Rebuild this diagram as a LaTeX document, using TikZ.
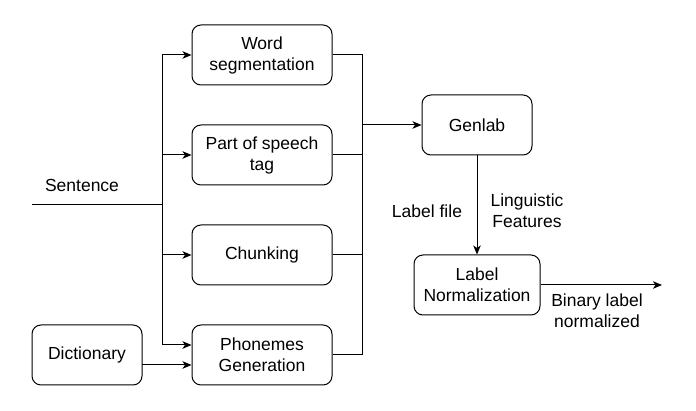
\documentclass[tikz,border=0pt]{standalone}
\usepackage{fontspec}
\setmainfont{Liberation Sans}
\usetikzlibrary{arrows.meta}
\begin{document}
\begin{tikzpicture}[x=1pt,y=-1pt,
  box/.style={draw, rounded corners=9pt, minimum width=140pt, minimum height=60pt,
    align=center, inner sep=0pt, line width=1pt, font=\fontsize{17.5}{21}\selectfont},
  txt/.style={align=center, inner sep=0pt, font=\fontsize{17.5}{21}\selectfont},
  wire/.style={line width=1pt},
  arr/.style={wire, -{Stealth[length=9pt,width=7.5pt,inset=2.5pt]}}]
\useasboundingbox (0,0) rectangle (696,411);

% processing stages
\node[box] (ws)  at (262,55)  {Word\\segmentation};
\node[box] (pos) at (262,155) {Part of speech\\tag};
\node[box] (ch)  at (262,255) {Chunking};
\node[box] (ph)  at (262,355) {Phonemes\\Generation};
\node[box, minimum width=110pt] (dic) at (87,355) {Dictionary};
\node[box, minimum width=110pt] (gen) at (477,125) {Genlab};
\node[box, minimum width=126pt] (ln)  at (477,285) {Label\\Normalization};

% text labels
\node[txt] (lsent) at (82,185)  {Sentence};
\node[txt] (lfile) at (427,211) {Label file};
\node[txt] (lfeat) at (527,211) {Linguistic\\Features};
\node[txt] (lbin)  at (597,311) {Binary label\\normalized};

% input bus
\coordinate (s0) at (32,205);
\coordinate (s1) at (162,205);
\coordinate (b1) at (162,55);
\coordinate (b4) at (162,345);
\coordinate (d1) at (142,365);
\draw[wire] (s0) -- (s1);
\draw[wire] (b1) -- (b4);
\draw[arr] (b1) -- (ws.west);
\draw[arr] (b1 |- pos.west) -- (pos.west);
\draw[arr] (b1 |- ch.west) -- (ch.west);
\draw[arr] (b4) -- (b4 -| ph.west);
\draw[arr] (d1) -- (d1 -| ph.west);

% output bus
\coordinate (r1) at (362,55);
\coordinate (r4) at (362,355);
\coordinate (g0) at (362,125);
\draw[wire] (ws.east) -- (r1) -- (r4) -- (ph.east);
\draw[wire] (pos.east) -- (pos.east -| r1);
\draw[wire] (ch.east) -- (ch.east -| r1);
\draw[arr] (g0) -- (gen.west);

% label pipeline
\coordinate (out) at (662,285);
\draw[arr] (gen.south) -- (ln.north);
\draw[arr] (ln.east) -- (out);
\end{tikzpicture}
\end{document}
